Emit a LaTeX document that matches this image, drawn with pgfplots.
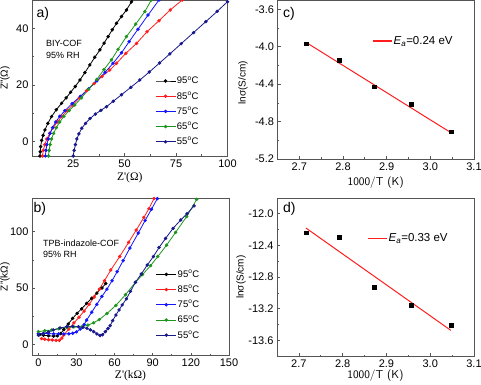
\documentclass[border=0pt]{standalone}
\usepackage{fontspec}
\setmainfont{Liberation Sans}
\newfontfamily\serif{Liberation Serif}
\usepackage{pgfplots}
\pgfplotsset{compat=1.18}

\definecolor{cgreen}{RGB}{30,150,30}
\definecolor{cnavy}{RGB}{25,25,140}
\definecolor{cred}{RGB}{255,30,30}
\definecolor{cblue}{RGB}{20,20,255}
\definecolor{axgray}{RGB}{85,85,85}

\pgfplotsset{
 legend image code/.code={\draw[mark repeat=2,mark phase=2,#1] plot coordinates {(0pt,0pt) (10pt,0pt) (20pt,0pt)};},
 common/.style={
  scale only axis,
  anchor=south west,
  axis line style={axgray, line width=0.9pt},
  every tick/.style={axgray, line width=0.7pt},
  tick align=inside,
  tick pos=left,
  major tick length=3pt, minor tick length=1.8pt,
  minor tick num=1,
  tick label style={font=\fontsize{11}{13}\selectfont},
  /pgf/number format/assume math mode=true,
  every axis x label/.style={at={(axis description cs:0.5,0)}, anchor=center},
  label style={font=\serif\fontsize{11.5}{13}\selectfont},
  legend cell align=left,
 },
 nyq/.style={mark=*, mark size=1.3pt, line width=0.8pt},
 nyqleg/.style={legend style={draw=none, fill=none, inner sep=0pt,
   font=\fontsize{9.5}{11}\selectfont, row sep=4.3pt, nodes={inner sep=1pt}}},
 arrh/.style={
   xmin=2.65, xmax=3.1, xtick={2.7,2.8,2.9,3.0,3.1},
   /pgf/number format/fixed, /pgf/number format/fixed zerofill, /pgf/number format/precision=1,
   xlabel={\sffamily\fontsize{11.5}{13}\selectfont 1000/T (K)}},
 arrleg/.style={legend style={draw=none, fill=none, inner sep=0pt,
   font=\fontsize{11.5}{13}\selectfont, nodes={inner sep=1pt}, anchor=west},
   legend image code/.code={\draw[draw=cred, line width=1.1pt] (0pt,0pt) -- (19pt,0pt);}},
}

\begin{document}
\begin{tikzpicture}
\path[use as bounding box] (0pt,0pt) rectangle (481pt,384pt);

% ---------------- a) ----------------
\begin{axis}[common, nyqleg, at={(32pt,228pt)}, width=195.5pt, height=156pt,
  xmin=5, xmax=100, ymin=-5, ymax=50, xtick={25,50,75,100}, ytick={0,20,40},
  xlabel={Z'(Ω)}, xlabel style={yshift=-22pt},
  ylabel={Z''(Ω)},
  every axis y label/.style={at={(axis description cs:-0.138,0.5)}, anchor=center, rotate=90},
  legend style={at={(axis description cs:0.629,0.517)}, anchor=north west}]
\addplot[nyq, black] coordinates {(8.9,-5.5)(8.9,-5)(9.0,-3.5)(9.2,-1.7)(9.7,0.5)(10.4,2.3)(11.3,4.2)(12.7,6.5)(14.5,8.9)(16.8,11.3)(19.4,13.6)(21.6,15.5)(23.8,17.5)(26,19.5)(28.3,21.8)(30.7,24.4)(33.1,27.1)(35.5,29.8)(38,32.4)(40,34.8)(42,37.1)(44,39.5)(46.1,41.8)(48.5,44.2)(50.9,46.5)(53.3,49.3)(55,51.5)};
\addlegendentry{95\textsuperscript{o}C}
\addplot[nyq, cred] coordinates {(10.1,-5)(10.5,-3)(11.2,-1)(12.2,1)(13.6,3)(15.3,5)(17.3,7)(19.5,9)(22,11)(24.8,13)(28,15.5)(31.5,18)(35.2,20.5)(39,23)(42.8,25.3)(46.1,27.7)(50.6,31.2)(55.8,34.7)(60.9,38.8)(66.7,42.7)(72.2,46.5)(78,50)(80,51.4)};
\addlegendentry{85\textsuperscript{o}C}
\addplot[nyq, cblue] coordinates {(11.5,-5)(11.8,-3)(12.2,-1)(12.9,1)(13.8,3)(15,5)(16.5,7)(18.5,9)(21,11)(24.5,13.5)(28.5,16)(32.5,18.7)(36.5,21.5)(40.5,24.5)(44.4,27.7)(48.5,31.4)(52.2,35.3)(56.5,39.7)(61.4,44.7)(66.7,50)(68,51.4)};
\addlegendentry{75\textsuperscript{o}C}
\addplot[nyq, cgreen] coordinates {(13,-5)(13.3,-3)(13.8,-1)(14.5,1)(15.5,3)(16.8,5)(18.5,7)(20.5,9)(23,11)(25.8,13)(29,15.5)(32.5,18.5)(36.5,22)(40,25.5)(43.6,28.9)(46.8,32.6)(50.9,37.1)(55.4,41.5)(59.8,45.9)(63,50)(64,51.4)};
\addlegendentry{65\textsuperscript{o}C}
\addplot[nyq, cnavy] coordinates {(25,-5)(25.5,-3)(26.1,-1)(26.8,1)(27.8,2.8)(29.2,4.8)(31,6.5)(33.2,8.2)(35.8,9.8)(38.5,11.1)(41.2,12.4)(44.5,14.3)(48.5,16.6)(53,19.2)(57.4,21.8)(62,24.6)(67,27.8)(72,31)(77.5,34.6)(83.5,38.5)(89.5,42.4)(95,46)(100,49.4)(101,50)};
\addlegendentry{55\textsuperscript{o}C}
\node[anchor=west, inner sep=0pt, font=\fontsize{14}{16}\selectfont] at ([xshift=4.5pt,yshift=-14pt]axis description cs:0,1) {a)};
\node[anchor=west, align=left, inner sep=0pt, font=\fontsize{9}{12}\selectfont] at ([xshift=14pt,yshift=-49pt]axis description cs:0,1) {BIY-COF\\95\% RH};
\end{axis}

% ---------------- c) ----------------
\begin{axis}[common, arrh, arrleg, at={(277.5pt,225pt)}, width=196.5pt, height=159pt,
  ymin=-5.2, ymax=-3.5, ytick={-5.2,-4.8,-4.4,-4.0,-3.6},
  xlabel style={yshift=-23.5pt},
  ylabel={lnσ(S/cm)},
  every axis y label/.style={at={(axis description cs:-0.1756,0.48)}, anchor=center, rotate=90},
  legend style={at={(axis description cs:0.482,0.742)}}]
\addplot[color=cred, line width=1pt, mark=none] coordinates {(2.716,-3.955)(3.047,-4.918)};
\addlegendentry{\textit{E}\textsubscript{\textit{a}}=0.24 eV}
\addplot[only marks, mark=square*, mark size=1.9pt, black, forget plot] coordinates {(2.716,-3.967)(2.792,-4.142)(2.872,-4.427)(2.957,-4.612)(3.047,-4.908)};
\node[anchor=west, inner sep=0pt, font=\fontsize{14}{16}\selectfont] at ([xshift=5.5pt,yshift=-14pt]axis description cs:0,1) {c)};
\end{axis}

% ---------------- b) ----------------
\begin{axis}[common, nyqleg, at={(32pt,28.5pt)}, width=197pt, height=157.5pt,
  xmin=-5, xmax=150, ymin=-10, ymax=130, xtick={0,30,60,90,120,150}, ytick={0,50,100},
  xlabel={Z'(kΩ)}, xlabel style={yshift=-20.5pt},
  ylabel={Z''(kΩ)},
  every axis y label/.style={at={(axis description cs:-0.137,0.5)}, anchor=center, rotate=90},
  legend style={at={(axis description cs:0.628,0.551)}, anchor=north west}]
\addplot[nyq, black] coordinates {(1,8.5)(4,8)(8,7.5)(12,7.3)(15,7.5)(17.5,9.5)(20,13)(23.5,18)(27,23)(30.5,27.5)(34,31.5)(38,36.3)(42,41)(46,45.5)(50,50)(53,54)};
\addlegendentry{95\textsuperscript{o}C}
\addplot[nyq, cred] coordinates {(2.5,5)(5,4.5)(8,4)(11,3.8)(14,3.5)(16.5,3.5)(18.5,5.5)(20,8.2)(24,13.5)(28,19)(32,24)(36,29.5)(40,35.5)(44,42)(48,49)(52,56.5)(57,66)(64,78)(71,90.5)(77,101.5)(83,112.7)(87,120.5)(91,129.5)(92,132)};
\addlegendentry{85\textsuperscript{o}C}
\addplot[nyq, cblue] coordinates {(0,9.5)(4,9.5)(8,9.5)(12,9.3)(16,9.2)(20,9.2)(24,9.3)(27,9.8)(30,11)(33,13.5)(36,17.5)(38,21.5)(42,28.5)(46,35.5)(50,42.5)(54,49)(58,56.5)(62,64.5)(66.7,74.3)(72,85.5)(78.6,98.8)(84,110)(89,120)(93.6,129.5)(94.5,132)};
\addlegendentry{75\textsuperscript{o}C}
\addplot[nyq, cgreen] coordinates {(0,11.2)(5,12)(10.6,12.7)(16,13.8)(22.4,15)(28,15.4)(34.3,15.6)(39,17)(43.5,19.1)(48,22)(54,27.4)(61,34.5)(68.5,44)(76.4,55)(82,62)(88.3,69.9)(94,78)(100.9,88.1)(108,99.5)(116.7,113.5)(124.6,128.8)(126,132)};
\addlegendentry{65\textsuperscript{o}C}
\addplot[nyq, cnavy] coordinates {(0,8.2)(4,9.5)(8,11)(11.8,12.7)(17,14.5)(22.4,15.6)(27,15.8)(31.6,15.6)(35,15)(38.2,14.2)(41,12.8)(43.5,11.2)(46,9.2)(48.5,7.8)(50.5,8.5)(52.7,11.2)(54.8,14)(56.5,16.5)(58.5,21)(61,26)(63.5,30.5)(66,35)(69.3,40.4)(72.5,47)(76.4,55.1)(81,62.5)(85.7,70.4)(90.5,78)(95,86)(100.1,94.1)(106,103)(112,110.5)(117,116)(122.5,123)};
\addlegendentry{55\textsuperscript{o}C}
\node[anchor=west, inner sep=0pt, font=\fontsize{14}{16}\selectfont] at ([xshift=1.5pt,yshift=-10.7pt]axis description cs:0,1) {b)};
\node[anchor=west, align=left, inner sep=0pt, font=\fontsize{9}{11}\selectfont] at ([xshift=11pt,yshift=-51.2pt]axis description cs:0,1) {TPB-indazole-COF\\95\% RH};
\end{axis}

% ---------------- d) ----------------
\begin{axis}[common, arrh, arrleg, at={(277pt,27.7pt)}, width=197pt, height=158.3pt,
  ymin=-13.8, ymax=-11.8, ytick={-13.6,-13.2,-12.8,-12.4,-12.0},
  xlabel style={yshift=-19.7pt},
  ylabel={lnσ(S/cm)},
  every axis y label/.style={at={(axis description cs:-0.183,0.5)}, anchor=center, rotate=90},
  legend style={at={(axis description cs:0.458,0.743)}}]
\addplot[color=cred, line width=1pt, mark=none] coordinates {(2.716,-12.179)(3.047,-13.472)};
\addlegendentry{\textit{E}\textsubscript{\textit{a}}=0.33 eV}
\addplot[only marks, mark=square*, mark size=1.9pt, black, forget plot] coordinates {(2.716,-12.238)(2.792,-12.293)(2.872,-12.924)(2.957,-13.152)(3.047,-13.408)};
\node[anchor=west, inner sep=0pt, font=\fontsize{14}{16}\selectfont] at ([xshift=6pt,yshift=-10.7pt]axis description cs:0,1) {d)};
\end{axis}
\end{tikzpicture}
\end{document}
